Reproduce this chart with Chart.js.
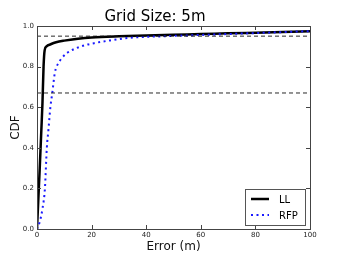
<!DOCTYPE html>
<html>
<head>
<meta charset="utf-8">
<script src="https://cdn.jsdelivr.net/npm/chart.js@4"></script>
<style>
  html, body { margin: 0; padding: 0; background: #fff; }
  #wrap { width: 338px; height: 263px; }
</style>
</head>
<body>
<div id="wrap"><canvas id="myChart" width="338" height="263"></canvas></div>
<script>
// values
var llErr  = [0, 0.5, 1, 1.6, 2, 2.4, 2.8, 3.5, 5, 7, 10, 15, 20, 30, 40, 50, 60, 70, 80, 90, 100];
var llCdf  = [0, 0.15, 0.3, 0.49, 0.62, 0.8, 0.88, 0.9, 0.91, 0.92, 0.928, 0.937, 0.943, 0.949, 0.953, 0.957, 0.96, 0.964, 0.967, 0.97, 0.974];
var rfpErr = [0, 1.1, 2, 2.9, 3.6, 4.2, 4.9, 5.6, 6.5, 7.2, 8.4, 9, 10.9, 15.8, 21.9, 27.9, 34, 47.6, 60, 80, 100];
var rfpCdf = [0, 0.04, 0.1, 0.2, 0.4, 0.49, 0.6, 0.67, 0.767, 0.8, 0.829, 0.841, 0.866, 0.898, 0.918, 0.931, 0.942, 0.95, 0.956, 0.965, 0.975];
var refLevels = [0.95, 0.67];
var xTicks = [0, 20, 40, 60, 80, 100];
var yTicks = [0, 0.2, 0.4, 0.6, 0.8, 1.0];

function toPoints(xs, ys) {
    return xs.map(function (x, i) { return {x: x, y: ys[i]}; });
}

var datasets = refLevels.map(function (lvl) {
    return {
        label: 'ref',
        data: [{x: 0, y: lvl}, {x: 100, y: lvl}],
        borderColor: '#111',
        borderWidth: 0.9,
        borderDash: [4, 3],
        pointRadius: 0,
        inLegend: false
    };
});
datasets.push({
    label: 'RFP',
    data: toPoints(rfpErr, rfpCdf),
    borderColor: '#1a1aff',
    borderWidth: 2,
    borderDash: [2, 3.5],
    pointRadius: 0,
    cubicInterpolationMode: 'monotone',
    inLegend: true
});
datasets.push({
    label: 'LL',
    data: toPoints(llErr, llCdf),
    borderColor: '#000',
    borderWidth: 2.5,
    pointRadius: 0,
    cubicInterpolationMode: 'monotone',
    inLegend: true
});

// matplotlib-like frame, inward ticks and boxed legend
var framePlugin = {
    id: 'frame',
    afterDraw: function (chart) {
        var ctx = chart.ctx, a = chart.chartArea;
        var xs = chart.scales.x, ys = chart.scales.y;
        ctx.save();
        ctx.strokeStyle = '#444';
        ctx.lineWidth = 1;
        ctx.strokeRect(a.left + 0.5, a.top + 0.5, a.right - a.left, a.bottom - a.top);
        ctx.beginPath();
        xTicks.forEach(function (v) {
            var px = Math.round(xs.getPixelForValue(v)) + 0.5;
            ctx.moveTo(px, a.bottom); ctx.lineTo(px, a.bottom - 4);
            ctx.moveTo(px, a.top); ctx.lineTo(px, a.top + 4);
        });
        yTicks.forEach(function (v) {
            var py = Math.round(ys.getPixelForValue(v)) + 0.5;
            ctx.moveTo(a.left, py); ctx.lineTo(a.left + 4, py);
            ctx.moveTo(a.right, py); ctx.lineTo(a.right - 4, py);
        });
        ctx.stroke();

        // legend box
        var items = chart.data.datasets.filter(function (d) { return d.inLegend; }).reverse();
        var bx = 245, by = 189, bw = 60, bh = 36;
        ctx.fillStyle = '#fff';
        ctx.fillRect(bx, by, bw, bh);
        ctx.strokeStyle = '#555';
        ctx.strokeRect(bx + 0.5, by + 0.5, bw, bh);
        ctx.font = '10px "DejaVu Sans"';
        ctx.textBaseline = 'middle';
        items.forEach(function (d, i) {
            var yy = by + 10 + i * 16;
            ctx.beginPath();
            ctx.strokeStyle = d.borderColor;
            ctx.lineWidth = d.borderWidth;
            ctx.setLineDash(d.borderDash || []);
            ctx.moveTo(bx + 6, yy); ctx.lineTo(bx + 24, yy);
            ctx.stroke();
            ctx.setLineDash([]);
            ctx.fillStyle = '#000';
            ctx.fillText(d.label, bx + 34, yy + 1);
        });
        ctx.restore();
    }
};

var chart = new Chart(document.getElementById('myChart').getContext('2d'), {
    type: 'line',
    data: { datasets: datasets },
    plugins: [framePlugin],
    options: {
        responsive: false,
        animation: false,
        layout: { padding: { left: 0, right: 28, top: 0, bottom: 0 } },
        scales: {
            x: {
                type: 'linear',
                min: 0, max: 100,
                afterBuildTicks: function (s) { s.ticks = xTicks.map(function (v) { return {value: v}; }); },
                afterFit: function (s) { s.height = 34; },
                grid: { display: false, drawTicks: false },
                border: { display: false },
                ticks: { font: { family: 'DejaVu Sans', size: 7 }, color: '#222', padding: 2, maxRotation: 0 },
                title: { display: true, text: 'Error (m)', font: { family: 'DejaVu Sans', size: 12 }, color: '#111', padding: { top: 1, bottom: 9 } }
            },
            y: {
                min: 0, max: 1,
                afterBuildTicks: function (s) { s.ticks = yTicks.map(function (v) { return {value: v}; }); },
                afterFit: function (s) { s.width = 37; },
                grid: { display: false, drawTicks: false },
                border: { display: false },
                ticks: {
                    font: { family: 'DejaVu Sans', size: 7 }, color: '#222', padding: 3,
                    callback: function (v) { return v.toFixed(1); }
                },
                title: { display: true, text: 'CDF', font: { family: 'DejaVu Sans', size: 12 }, color: '#111', padding: { top: 9, bottom: 0 } }
            }
        },
        plugins: {
            legend: { display: false },
            tooltip: { enabled: false },
            title: {
                display: true,
                text: 'Grid Size: 5m',
                color: '#000',
                font: { family: 'DejaVu Sans', size: 15, weight: 'normal' },
                padding: { top: 8, bottom: 0 }
            }
        }
    }
});
</script>
</body>
</html>
